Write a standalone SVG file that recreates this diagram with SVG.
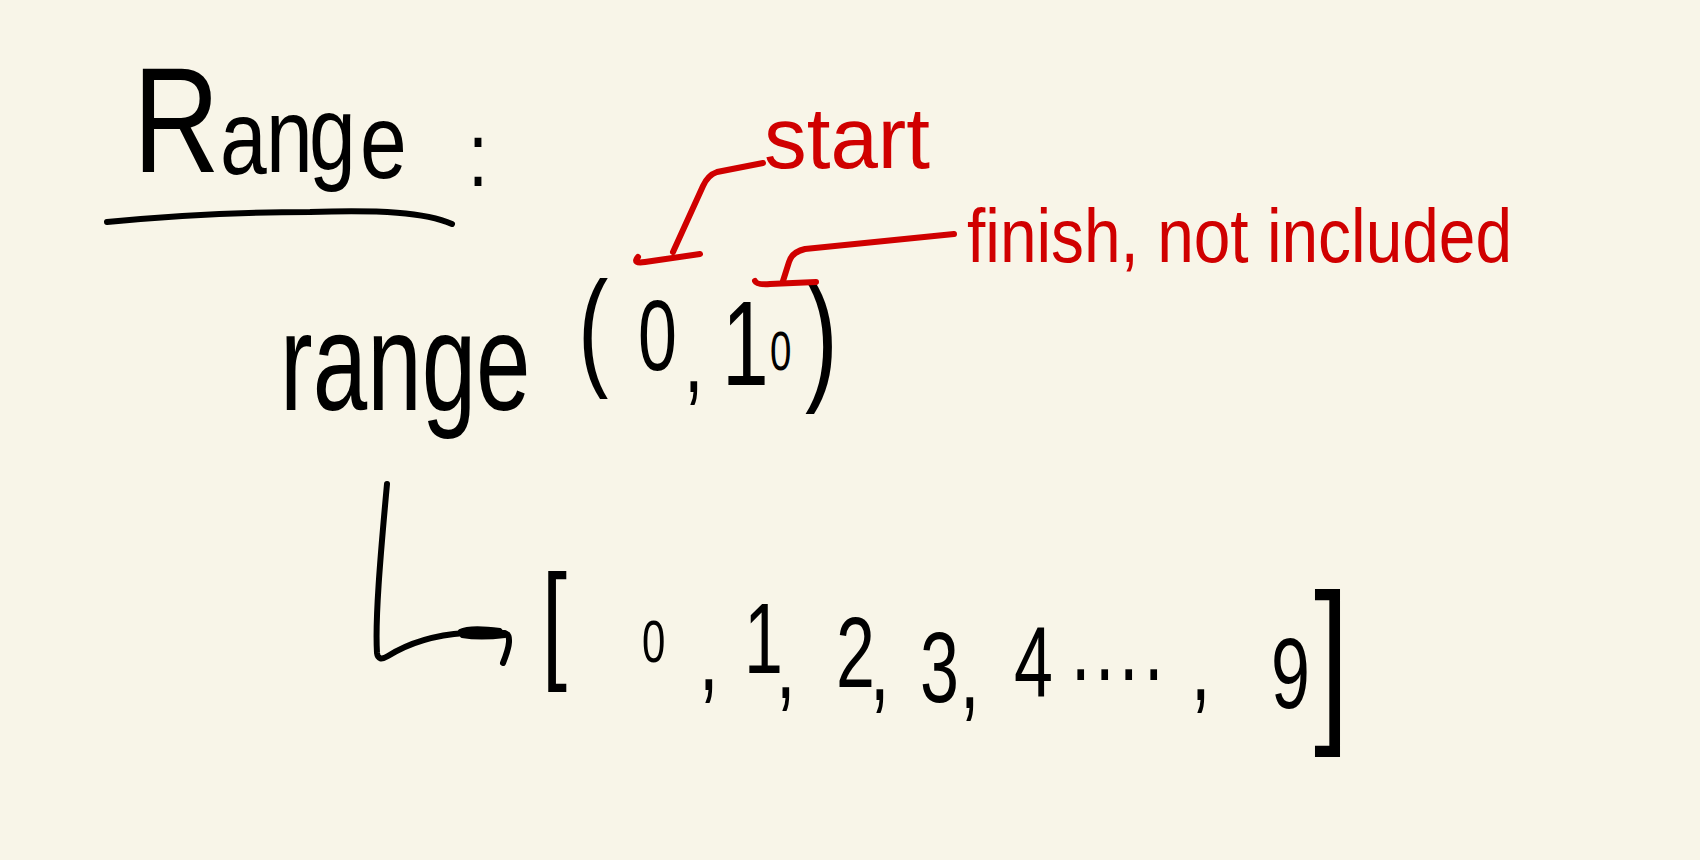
<svg xmlns="http://www.w3.org/2000/svg" width="1700" height="860" viewBox="0 0 1700 860">
  <style>
    .ink { fill: #000; font-family: "Liberation Sans", Arial, sans-serif; }
    .red { fill: #d00000; font-family: "Liberation Sans", Arial, sans-serif; }
    .stroke-black { fill: none; stroke: #000; stroke-width: 6; stroke-linecap: round; stroke-linejoin: round; }
    .stroke-red { fill: none; stroke: #d00000; stroke-width: 6; stroke-linecap: round; stroke-linejoin: round; }
  </style>
  <rect x="0" y="0" width="1700" height="860" fill="#f8f5e8"/>

  <g id="title">
    <text class="ink" transform="scale(0.8,1)"><tspan x="166.25" y="172" font-size="150">R</tspan><tspan x="275 332.5 386.25 450" y="174 172 170 178" font-size="105">ange</tspan><tspan x="585" y="186" font-size="90">:</tspan></text>
    <path class="stroke-black" d="M107,222 C180,215 250,212 310,212 C380,210 425,212 452,224"/>
  </g>

  <g id="label-start">
    <text class="red" x="764" y="168" font-size="88" textLength="166" lengthAdjust="spacingAndGlyphs">start</text>
  </g>

  <g id="label-finish">
    <text class="red" x="967" y="262" font-size="76" textLength="545" lengthAdjust="spacingAndGlyphs">finish, not included</text>
  </g>

  <g id="expr">
    <text class="ink" transform="scale(0.7,1)"><tspan x="400" y="410" font-size="140">range</tspan><tspan x="825.7" y="372" font-size="130">(</tspan><tspan x="911.4" y="370" font-size="100">0</tspan><tspan x="977.1" y="392" font-size="100">,</tspan><tspan x="1031.4" y="385" font-size="120">1</tspan><tspan x="1100" y="370" font-size="55">0</tspan><tspan x="1150" y="384" font-size="142">)</tspan></text>
  </g>

  <g id="result">
    <text class="ink" transform="scale(0.7,1)"><tspan x="774" y="665" font-size="130">[</tspan><tspan x="917" y="662" font-size="60">0</tspan><tspan x="998.6 1028.6 1062.9 1108.6 1142.9 1194.3 1242.9 1285.7 1314.3 1371.4 1414.3 1448.6 1530 1564.3 1598.6 1634.3 1701.4 1757.1 1815.7" y="690 690 673 698 698 687 700 700 702 708 708 697 680 680 680 680 700 700 708" font-size="100">, 1, 2, 3, 4...., 9</tspan><tspan x="1877" y="720" font-size="180">]</tspan></text>
  </g>

  <g id="connectors">
    <path class="stroke-red" d="M763,163 L717,172 Q708,175 703,186 L673,252"/>
    <path class="stroke-red" d="M638,257 Q632,264 645,262 L700,254"/>
    <path class="stroke-red" d="M954,234 L805,249 Q792,252 789,262 L783,281"/>
    <path class="stroke-red" d="M755,281 Q757,285 770,284 L816,282"/>
    <path class="stroke-black" d="M387,484 C380,560 375,620 377,653 Q378,662 388,656 Q420,636 465,633 L505,633 Q514,636 503,663"/>
    <path d="M460,631 Q470,626 500,630 L505,636 Q480,639 462,636 Z" fill="#000" stroke="#000" stroke-width="4" stroke-linejoin="round"/>
  </g>
</svg>
